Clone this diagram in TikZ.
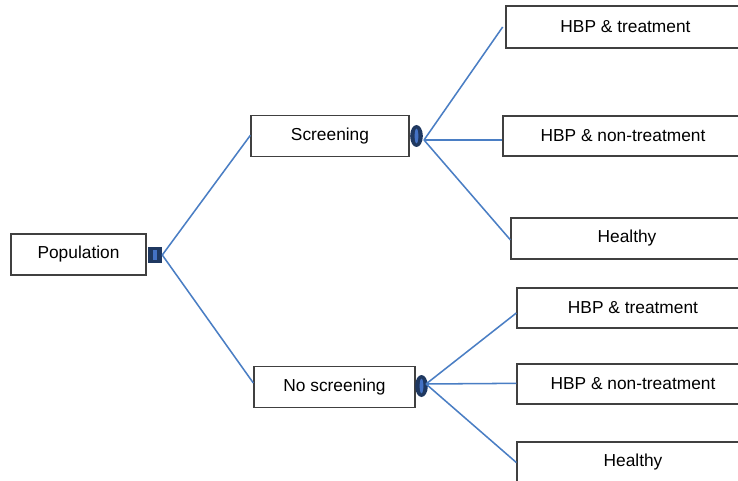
\documentclass[tikz,border=0pt]{standalone}
\usepackage{fontspec}
\setmainfont{Liberation Sans}
\usetikzlibrary{shapes.geometric}
\definecolor{linkblue}{RGB}{74,126,196}
\definecolor{boxgray}{RGB}{64,64,64}
\definecolor{darknav}{RGB}{31,56,96}
\definecolor{lightnav}{RGB}{68,114,196}
\tikzset{
  box/.style={draw=boxgray, line width=1pt, fill=white, rectangle, inner sep=0pt,
    font=\fontsize{13}{15}\selectfont, text=black},
  link/.style={draw=linkblue, line width=1.15pt},
  chance/.style={ellipse, fill=darknav, inner sep=0pt, minimum width=9.5pt, minimum height=16.5pt,
    path picture={\fill[lightnav] (path picture bounding box.center) ellipse (1.4pt and 5.5pt);}},
  decision/.style={rectangle, fill=darknav, inner sep=0pt, minimum width=10.5pt, minimum height=12pt,
    path picture={\fill[lightnav] ([xshift=-1.5pt,yshift=-3.4pt]path picture bounding box.center) rectangle ([xshift=1.5pt,yshift=3.4pt]path picture bounding box.center);}}
}
\begin{document}
\begin{tikzpicture}[x=0.75pt,y=-0.75pt]
\clip (0,0) rectangle (738,481);
\useasboundingbox (0,0) rectangle (738,481);
\fill[white] (0,0) rectangle (738,481);

\node[box, minimum width=101.25pt, minimum height=30.75pt] (pop) at (78.5,254.5) {Population};
\node[decision] (sq) at (155,255) {};

\node[box, minimum width=118.5pt, minimum height=30.5pt] (scr) at (330,136) {Screening};
\node[box, minimum width=120.75pt, minimum height=30.5pt] (nos) at (334.5,387) {No screening};

\node[chance] (c1) at (416.5,136) {};
\node[chance] (c2) at (421.5,386) {};
\coordinate (e1) at (424,140);
\coordinate (e2) at (426,384);

\node[box, minimum width=179.25pt, minimum height=31.5pt] (b1) at (625.5,27) {HBP \& treatment};
\node[box, minimum width=180pt, minimum height=30pt] (b2) at (623,136) {HBP \& non-treatment};
\node[box, minimum width=174pt, minimum height=30.75pt] (b3) at (627,238.5) {Healthy};
\node[box, minimum width=174pt, minimum height=30pt] (b4) at (633,308) {HBP \& treatment};
\node[box, minimum width=174pt, minimum height=30pt] (b5) at (633,384) {HBP \& non-treatment};
\node[box, minimum width=174pt, minimum height=30.75pt] (b6) at (633,462.5) {Healthy};

\draw[link] (sq.east) -- ([yshift=0.5pt]scr.west);
\draw[link] (sq.east) -- ([yshift=3pt]nos.west);

\draw[link] (e1) -- ([xshift=-2pt]b1.west);
\draw[link] (e1) -- ([yshift=-3pt]b2.west);
\draw[link] (e1) -- ([yshift=-1pt]b3.west);

\draw[link] (e2) -- ([yshift=-3.75pt]b4.west);
\draw[link] (e2) -- ([yshift=0.5pt]b5.west);
\draw[link] (e2) -- (b6.west);
\end{tikzpicture}
\end{document}
